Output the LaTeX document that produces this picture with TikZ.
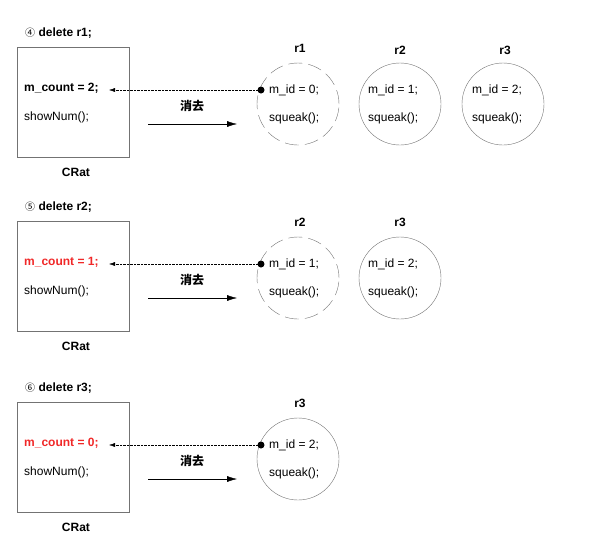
\documentclass[tikz,border=0pt]{standalone}
\usepackage{fontspec}
\setmainfont{Liberation Sans}
\newfontfamily\cjk{Noto Sans CJK SC}
\usetikzlibrary{arrows.meta}
\definecolor{redt}{RGB}{240,40,40}
\begin{document}
\begin{tikzpicture}[x=1pt,y=-1pt,
  txt/.style={font=\fontsize{12}{14}\selectfont, inner sep=0pt, anchor=west},
  lbl/.style={font=\fontsize{12}{14}\selectfont\bfseries, inner sep=0pt},
  box/.style={draw=gray!90!black, minimum width=112pt, minimum height=110pt, inner sep=0pt},
  obj/.style={draw=gray!90!black, circle, minimum size=82pt, inner sep=0pt},
  dashobj/.style={obj, dash pattern=on 14pt off 6pt},
  ptr/.style={densely dotted, -{Latex[length=6pt,width=4pt]}},
  mv/.style={-{Latex[length=10pt,width=6pt]}},
  dot/.style={circle, fill=black, minimum size=7pt, inner sep=0pt}]
\useasboundingbox (0,0) rectangle (600,550);
\foreach \i/\dy/\num/\rname/\cnt/\col/\st in {1/0/④/r1/2/black/dashobj, 2/174/⑤/r2/1/redt/dashobj, 3/355/⑥/r3/0/redt/obj}{
  \node[lbl, anchor=west] (t\i) at (25,33+\dy) {{\normalfont\cjk\fontsize{10}{12}\selectfont\num}\ delete \rname;};
  \node[box] (b\i) at (73,102+\dy) {};
  \node[txt, font=\fontsize{12}{14}\selectfont\bfseries, text=\col] (c\i) at (24,88+\dy) {m\_count = \cnt;};
  \node[txt] (s\i) at (24,117+\dy) {showNum();};
  \node[lbl] (n\i) at (76,172+\dy) {CRat};
  \node[font=\cjk\fontsize{12}{14}\selectfont\bfseries, inner sep=0pt] (x\i) at (192,106+\dy) {消去};
  \coordinate (a\i) at (148,124+\dy);
  \coordinate (e\i) at (237,124+\dy);
  \draw[mv] (a\i) -- (e\i);
  \node[lbl] (l\i) at (300,48+\dy) {\rname};
  \node[\st] (o\i) at (298,104+\dy) {};
  \node[txt] (m\i) at (269,90+\dy) {m\_id = \the\numexpr\i-1\relax;};
  \node[txt] (q\i) at (269,118+\dy) {squeak();};
  \node[dot] (d\i) at (261,90+\dy) {};
  \coordinate (p\i) at (109,90+\dy);
  \draw[ptr] (d\i) -- (p\i);
}
\node[obj] (r2a) at (400,104) {};
\node[lbl] (r2al) at (400,50) {r2};
\node[txt] at (368,90) {m\_id = 1;};
\node[txt] at (368,118) {squeak();};
\node[obj] (r3a) at (503,104) {};
\node[lbl] (r3al) at (505,50) {r3};
\node[txt] at (472,90) {m\_id = 2;};
\node[txt] at (472,118) {squeak();};
\node[obj] (r3b) at (400,278) {};
\node[lbl] (r3bl) at (400,222) {r3};
\node[txt] at (368,264) {m\_id = 2;};
\node[txt] at (368,292) {squeak();};
\end{tikzpicture}
\end{document}
